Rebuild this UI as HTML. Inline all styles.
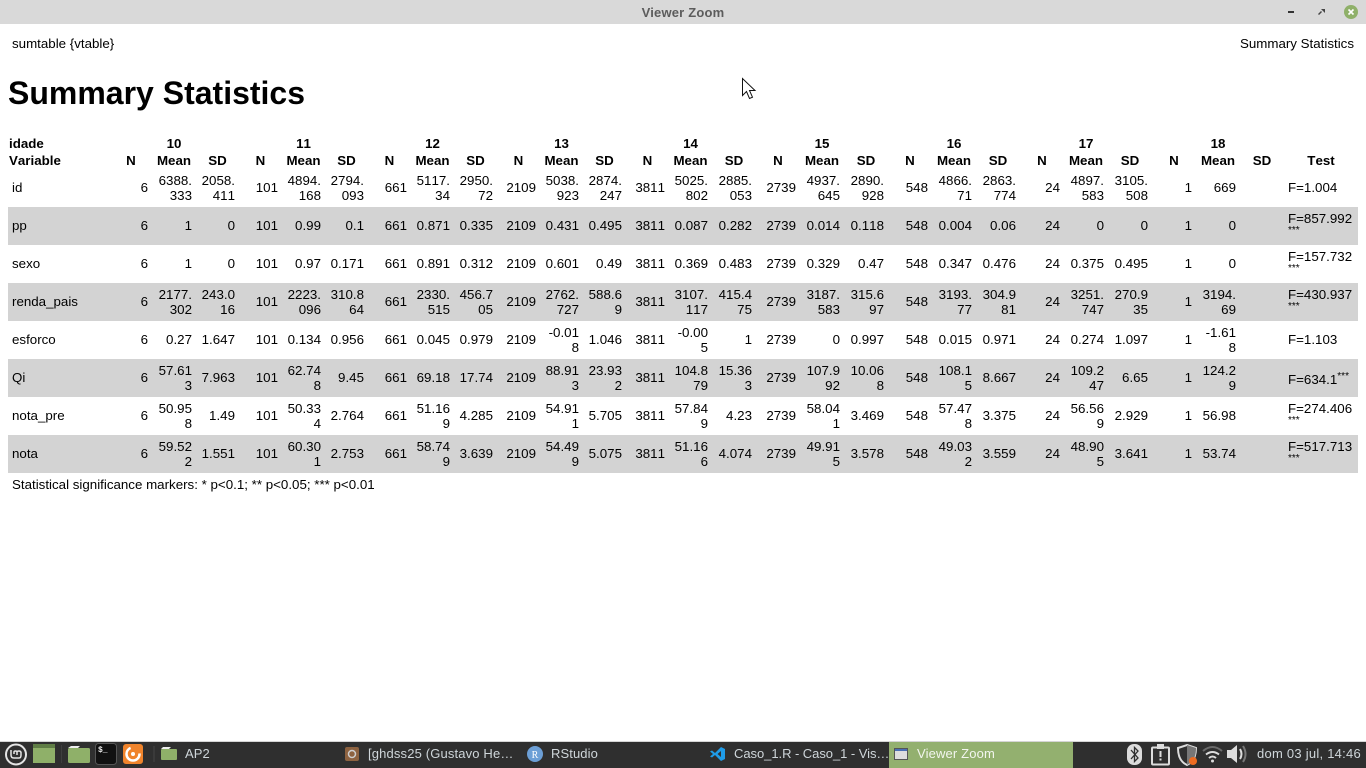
<!DOCTYPE html>
<html lang="pt">
<head>
<meta charset="utf-8">
<title>Viewer Zoom</title>
<style>
html,body{margin:0;padding:0;width:1366px;height:768px;overflow:hidden;background:#fff;font-family:"Liberation Sans",sans-serif;color:#000}
.abs{position:absolute}
#titlebar{left:0;top:0;width:1366px;height:24px;background:#d9d9d9}
#wtitle{left:0;width:1366px;top:5px;text-align:center;font:bold 13px/16px "Liberation Sans",sans-serif;color:#5c5c5c;letter-spacing:.2px}
.t13{font-size:13.33px;line-height:15px;white-space:nowrap}
h1{position:absolute;left:8px;top:75px;margin:0;font-size:32px;line-height:37px;font-weight:bold;white-space:nowrap}
table{position:absolute;left:8px;top:135px;width:1350px;border-collapse:collapse;table-layout:fixed;font-size:13.33px;line-height:15px;font-kerning:none}
th{height:17px;padding:0 4px;font-weight:bold;text-align:center;vertical-align:middle;box-sizing:border-box}
th.l{text-align:left;padding-left:1px}
td{height:38px;box-sizing:border-box;padding:0 4px 1px;text-align:right;vertical-align:middle;word-break:break-all}
td.l{text-align:left}
tr.g td{background:#d3d3d3}
sup{font-size:10px;line-height:0;position:relative;top:1px}
.qi{position:relative;top:2px}
.qi sup{top:0}
#taskbar{left:0;top:741px;width:1366px;height:27px;background:#2f2f2f;border-top:1px solid #d5d5d5;box-sizing:border-box}
.tb{position:absolute;top:746px;font:13px/16px "Liberation Sans",sans-serif;color:#cfd6da;white-space:nowrap;letter-spacing:.25px}
svg{position:absolute;left:0;top:0}
</style>
</head>
<body>
<div class="abs" id="titlebar"></div>
<div class="abs" id="wtitle">Viewer Zoom</div>
<svg width="1366" height="768" viewBox="0 0 1366 768">
  <rect x="1288" y="11" width="6" height="2" fill="#333"/>
  <path d="M1318 14l3-3 1 1-3 3zM1321 9h4v4z" fill="#444"/>
  <g><circle cx="1351" cy="12" r="7" fill="#8fb069"/><path d="M1348.500 9.500l5 5M1353.500 9.500l-5 5" stroke="#fff" stroke-width="1.6"/></g>
  <path d="M742.500 78.500v17l4-4 3 7 3-1.300-3-6.700h5.500z" fill="#fff" stroke="#111" stroke-width="1"/>
</svg>
<div class="abs t13" style="left:12px;top:36px">sumtable {vtable}</div>
<div class="abs t13" style="right:12px;top:36px">Summary Statistics</div>
<h1>Summary Statistics</h1>

<table>
<colgroup><col style="width:102px"><col style="width:42px"><col style="width:44px"><col style="width:43px"><col style="width:43px"><col style="width:43px"><col style="width:43px"><col style="width:43px"><col style="width:43px"><col style="width:43px"><col style="width:43px"><col style="width:43px"><col style="width:43px"><col style="width:43px"><col style="width:43px"><col style="width:44px"><col style="width:44px"><col style="width:44px"><col style="width:44px"><col style="width:44px"><col style="width:44px"><col style="width:44px"><col style="width:44px"><col style="width:44px"><col style="width:44px"><col style="width:44px"><col style="width:44px"><col style="width:44px"><col style="width:74px"></colgroup>
<thead>
<tr><th class="l">idade</th><th></th><th>10</th><th></th><th></th><th>11</th><th></th><th></th><th>12</th><th></th><th></th><th>13</th><th></th><th></th><th>14</th><th></th><th></th><th>15</th><th></th><th></th><th>16</th><th></th><th></th><th>17</th><th></th><th></th><th>18</th><th></th><th></th></tr>
<tr><th class="l">Variable</th><th>N</th><th>Mean</th><th>SD</th><th>N</th><th>Mean</th><th>SD</th><th>N</th><th>Mean</th><th>SD</th><th>N</th><th>Mean</th><th>SD</th><th>N</th><th>Mean</th><th>SD</th><th>N</th><th>Mean</th><th>SD</th><th>N</th><th>Mean</th><th>SD</th><th>N</th><th>Mean</th><th>SD</th><th>N</th><th>Mean</th><th>SD</th><th>Test</th></tr>
</thead>
<tbody>
<tr><td class="l">id</td><td>6</td><td>6388.333</td><td>2058.411</td><td>101</td><td>4894.168</td><td>2794.093</td><td>661</td><td>5117.34</td><td>2950.72</td><td>2109</td><td>5038.923</td><td>2874.247</td><td>3811</td><td>5025.802</td><td>2885.053</td><td>2739</td><td>4937.645</td><td>2890.928</td><td>548</td><td>4866.71</td><td>2863.774</td><td>24</td><td>4897.583</td><td>3105.508</td><td>1</td><td>669</td><td></td><td class="l">F=1.004</td></tr>
<tr class="g"><td class="l">pp</td><td>6</td><td>1</td><td>0</td><td>101</td><td>0.99</td><td>0.1</td><td>661</td><td>0.871</td><td>0.335</td><td>2109</td><td>0.431</td><td>0.495</td><td>3811</td><td>0.087</td><td>0.282</td><td>2739</td><td>0.014</td><td>0.118</td><td>548</td><td>0.004</td><td>0.06</td><td>24</td><td>0</td><td>0</td><td>1</td><td>0</td><td></td><td class="l">F=857.992<sup>***</sup></td></tr>
<tr><td class="l">sexo</td><td>6</td><td>1</td><td>0</td><td>101</td><td>0.97</td><td>0.171</td><td>661</td><td>0.891</td><td>0.312</td><td>2109</td><td>0.601</td><td>0.49</td><td>3811</td><td>0.369</td><td>0.483</td><td>2739</td><td>0.329</td><td>0.47</td><td>548</td><td>0.347</td><td>0.476</td><td>24</td><td>0.375</td><td>0.495</td><td>1</td><td>0</td><td></td><td class="l">F=157.732<sup>***</sup></td></tr>
<tr class="g"><td class="l">renda_pais</td><td>6</td><td>2177.302</td><td>243.016</td><td>101</td><td>2223.096</td><td>310.864</td><td>661</td><td>2330.515</td><td>456.705</td><td>2109</td><td>2762.727</td><td>588.69</td><td>3811</td><td>3107.117</td><td>415.475</td><td>2739</td><td>3187.583</td><td>315.697</td><td>548</td><td>3193.77</td><td>304.981</td><td>24</td><td>3251.747</td><td>270.935</td><td>1</td><td>3194.69</td><td></td><td class="l">F=430.937<sup>***</sup></td></tr>
<tr><td class="l">esforco</td><td>6</td><td>0.27</td><td>1.647</td><td>101</td><td>0.134</td><td>0.956</td><td>661</td><td>0.045</td><td>0.979</td><td>2109</td><td>-0.018</td><td>1.046</td><td>3811</td><td>-0.005</td><td>1</td><td>2739</td><td>0</td><td>0.997</td><td>548</td><td>0.015</td><td>0.971</td><td>24</td><td>0.274</td><td>1.097</td><td>1</td><td>-1.618</td><td></td><td class="l">F=1.103</td></tr>
<tr class="g"><td class="l">Qi</td><td>6</td><td>57.613</td><td>7.963</td><td>101</td><td>62.748</td><td>9.45</td><td>661</td><td>69.18</td><td>17.74</td><td>2109</td><td>88.913</td><td>23.932</td><td>3811</td><td>104.879</td><td>15.363</td><td>2739</td><td>107.992</td><td>10.068</td><td>548</td><td>108.15</td><td>8.667</td><td>24</td><td>109.247</td><td>6.65</td><td>1</td><td>124.29</td><td></td><td class="l"><span class="qi">F=634.1<sup>***</sup></span></td></tr>
<tr><td class="l">nota_pre</td><td>6</td><td>50.958</td><td>1.49</td><td>101</td><td>50.334</td><td>2.764</td><td>661</td><td>51.169</td><td>4.285</td><td>2109</td><td>54.911</td><td>5.705</td><td>3811</td><td>57.849</td><td>4.23</td><td>2739</td><td>58.041</td><td>3.469</td><td>548</td><td>57.478</td><td>3.375</td><td>24</td><td>56.569</td><td>2.929</td><td>1</td><td>56.98</td><td></td><td class="l">F=274.406<sup>***</sup></td></tr>
<tr class="g"><td class="l">nota</td><td>6</td><td>59.522</td><td>1.551</td><td>101</td><td>60.301</td><td>2.753</td><td>661</td><td>58.749</td><td>3.639</td><td>2109</td><td>54.499</td><td>5.075</td><td>3811</td><td>51.166</td><td>4.074</td><td>2739</td><td>49.915</td><td>3.578</td><td>548</td><td>49.032</td><td>3.559</td><td>24</td><td>48.905</td><td>3.641</td><td>1</td><td>53.74</td><td></td><td class="l">F=517.713<sup>***</sup></td></tr>
</tbody>
</table>
<div class="abs t13" style="left:12px;top:477px">Statistical significance markers: * p&lt;0.1; ** p&lt;0.05; *** p&lt;0.01</div>

<div class="abs" id="taskbar"></div>
<div class="abs" style="left:889px;top:742px;width:184px;height:26px;background:#93b06f"></div>
<svg width="1366" height="768" viewBox="0 0 1366 768">
  <g><circle cx="16" cy="754.500" r="10" fill="none" stroke="#e4e4e4" stroke-width="2"/><path d="M11 750v5q0 3 3 3h5q2 0 2-3v-3M14 754v-2q0-1 1.500-1t1.500 1v3M17 752q0-1 2-1t2 2" fill="none" stroke="#e4e4e4" stroke-width="1.500"/></g>
  <g><rect x="33" y="744" width="22" height="19" fill="#8fb069"/><rect x="33" y="744" width="22" height="4" fill="#5f7d45"/></g>
  <rect x="61" y="745" width="1" height="18" fill="#3e3e3e"/>
  <g><path d="M68 748h10l2-2h-9z" fill="#eee"/><rect x="68" y="748" width="22" height="15" rx="1.500" fill="#8fb069"/></g>
  <g><rect x="95.500" y="743.500" width="21" height="21" rx="3" fill="#111" stroke="#555"/><text x="98" y="752" font-family="Liberation Mono, monospace" font-size="8" font-weight="bold" fill="#eee">$_</text></g>
  <g><rect x="123" y="744" width="20" height="20" rx="3" fill="#f0842c"/><circle cx="133" cy="754" r="6.500" fill="none" stroke="#fff" stroke-width="2.500" stroke-dasharray="28 12"/><circle cx="133" cy="754" r="2" fill="#fff"/></g>
  <rect x="153" y="746" width="2" height="16" fill="#3a3a3a"/>
  <g><path d="M161 749h8l2-2h-8z" fill="#eee"/><rect x="161" y="749" width="16" height="11" rx="1" fill="#8fb069"/></g>
  <g><rect x="345" y="747" width="14" height="14" rx="2" fill="#8d6240"/><circle cx="352" cy="754" r="3.500" fill="none" stroke="#cfcfcf" stroke-width="1.500"/></g>
  <g><circle cx="535" cy="754" r="8" fill="#6c9fd6"/><text x="535" y="758" text-anchor="middle" font-family="Liberation Serif, serif" font-size="10" fill="#fff">R</text></g>
  <path d="M721 747l4 2v10l-4 2-6-6-3 2.500-2-1 3-2.500-3-2.500 2-1 3 2.500zM721 751l-3.500 3 3.500 3z" fill="#1f9ce8" fill-rule="evenodd"/>
  <g><rect x="894.500" y="748.500" width="13" height="11" fill="#ddd" stroke="#555"/><rect x="895" y="749" width="12" height="2" fill="#4a6fb5"/></g>
  <g><rect x="1127" y="744" width="15" height="21" rx="7" fill="#dcdcdc"/><path d="M1131 750l7 8-3.500 3.500v-14l3.500 3.500-7 8" fill="none" stroke="#2f2f2f" stroke-width="1.300"/></g>
  <g><rect x="1152" y="747.500" width="17" height="17" rx="1" fill="none" stroke="#dcdcdc" stroke-width="2"/><rect x="1157" y="744" width="7" height="5" fill="#dcdcdc"/><rect x="1159.500" y="751" width="2" height="6" fill="#dcdcdc"/><rect x="1159.500" y="758.500" width="2" height="2" fill="#dcdcdc"/></g>
  <g><path d="M1187 745l9 3q0 13-9 17q-9-4-9-17z" fill="none" stroke="#dcdcdc" stroke-width="2"/><path d="M1187 745l9 3q0 13-9 17z" fill="#777"/><circle cx="1193" cy="761" r="4" fill="#ee6c22"/></g>
  <g fill="none" stroke-width="2"><path d="M1203 751q9.500-8 19 0" stroke="#6a6a6a"/><path d="M1206 754.500q6.500-5 13 0" stroke="#dcdcdc"/><path d="M1209 758q3.500-3 7 0" stroke="#dcdcdc"/><circle cx="1212.500" cy="761" r="1.500" fill="#dcdcdc" stroke="none"/></g>
  <g><path d="M1227 750h4l6-5v18l-6-5h-4z" fill="#dcdcdc"/><path d="M1240 749q3 5 0 10" fill="none" stroke="#dcdcdc" stroke-width="2"/><path d="M1243 746q5 8 0 16" fill="none" stroke="#777" stroke-width="2"/></g>
</svg>
<div class="tb" style="left:185px;letter-spacing:.1px">AP2</div>
<div class="tb" style="left:368px;letter-spacing:.15px">[ghdss25 (Gustavo He…</div>
<div class="tb" style="left:551px;letter-spacing:.1px">RStudio</div>
<div class="tb" style="left:734px;letter-spacing:-.05px">Caso_1.R - Caso_1 - Vis…</div>
<div class="tb" style="left:917px;letter-spacing:.15px;color:#f2f5ee">Viewer Zoom</div>
<div class="tb" style="left:1257px">dom 03 jul, 14:46</div>
</body>
</html>
